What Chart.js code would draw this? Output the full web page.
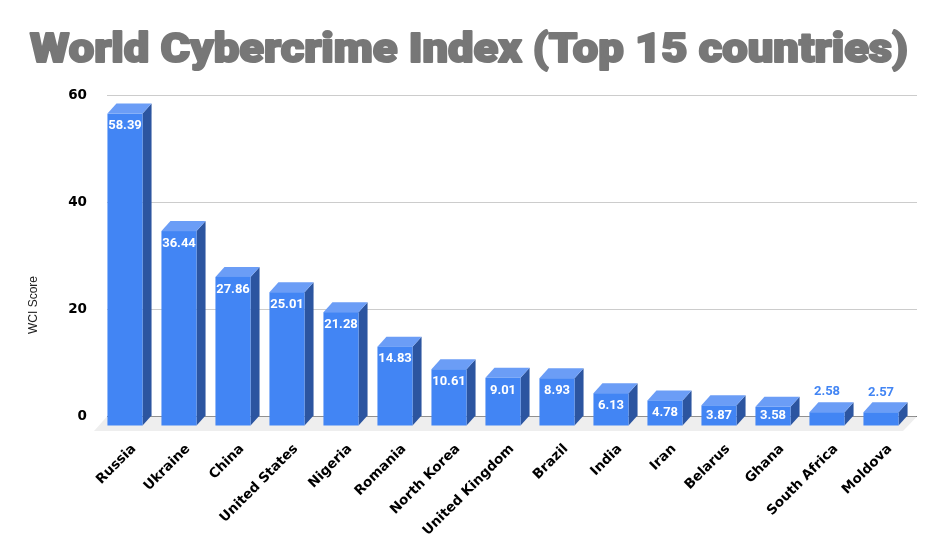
<!DOCTYPE html>
<html>
<head>
<meta charset="utf-8">
<title>World Cybercrime Index</title>
<script src="https://cdn.jsdelivr.net/npm/chart.js@4.4.1/dist/chart.umd.min.js"></script>
<style>
  html, body { margin: 0; padding: 0; background: #ffffff; }
  canvas { display: block; }
</style>
</head>
<body>
<canvas id="chart" width="945" height="550"></canvas>
<script>
// data
const countries = ['Russia', 'Ukraine', 'China', 'United States', 'Nigeria', 'Romania', 'North Korea',
  'United Kingdom', 'Brazil', 'India', 'Iran', 'Belarus', 'Ghana', 'South Africa', 'Moldova'];
const wciScores = [58.39, 36.44, 27.86, 25.01, 21.28, 14.83, 10.61, 9.01, 8.93, 6.13, 4.78, 3.87, 3.58, 2.58, 2.57];
const yTicks = [0, 20, 40, 60];
const chartTitle = 'World Cybercrime Index (Top 15 countries)';
const yAxisTitle = 'WCI Score';

// 3d look
const DEPTH_X = 9;
const DEPTH_Y = 10;
const FRONT = '#4285f4';
const SIDE = '#2c55a0';
const TOP = '#6b9df6';

// grey floor under the bars
const floorPlugin = {
  id: 'floor',
  beforeDatasetsDraw(chart) {
    const { ctx, chartArea } = chart;
    ctx.save();
    ctx.fillStyle = '#eeeeee';
    ctx.beginPath();
    ctx.moveTo(chartArea.left, chartArea.bottom + 0.5);
    ctx.lineTo(chartArea.right, chartArea.bottom + 0.5);
    ctx.lineTo(chartArea.right - 14, chartArea.bottom + 15);
    ctx.lineTo(chartArea.left - 13, chartArea.bottom + 15);
    ctx.closePath();
    ctx.fill();
    ctx.restore();
  }
};

// draws each bar as a box, using the positions chart.js computed
const boxPlugin = {
  id: 'box3d',
  afterDatasetsDraw(chart) {
    const ctx = chart.ctx;
    const meta = chart.getDatasetMeta(0);
    const values = chart.data.datasets[0].data;
    ctx.save();
    meta.data.forEach((bar, i) => {
      const p = bar.getProps(['x', 'y', 'base', 'width'], true);
      const L = p.x - p.width / 2, R = p.x + p.width / 2;
      const T = p.y, B = p.base;
      // side
      ctx.fillStyle = SIDE;
      ctx.beginPath();
      ctx.moveTo(R - DEPTH_X, T + DEPTH_Y);
      ctx.lineTo(R, T);
      ctx.lineTo(R, B);
      ctx.lineTo(R - DEPTH_X, B + DEPTH_Y);
      ctx.closePath();
      ctx.fill();
      // top
      ctx.fillStyle = TOP;
      ctx.beginPath();
      ctx.moveTo(L - DEPTH_X, T + DEPTH_Y);
      ctx.lineTo(L, T);
      ctx.lineTo(R, T);
      ctx.lineTo(R - DEPTH_X, T + DEPTH_Y);
      ctx.closePath();
      ctx.fill();
      // front
      ctx.fillStyle = FRONT;
      ctx.fillRect(L - DEPTH_X, T + DEPTH_Y, p.width, B - T);

      // value label
      const fx = p.x - DEPTH_X;
      const fTop = T + DEPTH_Y, fBot = B + DEPTH_Y;
      ctx.font = 'bold 13px Roboto';
      ctx.textAlign = 'center';
      ctx.textBaseline = 'middle';
      const txt = values[i].toFixed(2);
      if (values[i] < 3) {
        ctx.fillStyle = FRONT;
        ctx.fillText(txt, fx, T - 10);
      } else {
        ctx.fillStyle = '#ffffff';
        ctx.fillText(txt, fx, Math.min(fTop + 12.5, (fTop + fBot) / 2));
      }
    });
    ctx.restore();
  }
};

// heavy grey title and the rotated axis title
const textPlugin = {
  id: 'texts',
  afterDraw(chart) {
    const ctx = chart.ctx;
    ctx.save();
    ctx.font = '900 40px Roboto';
    ctx.fillStyle = '#777777';
    ctx.strokeStyle = '#777777';
    ctx.lineWidth = 2;
    ctx.lineJoin = 'round';
    ctx.textAlign = 'left';
    ctx.textBaseline = 'alphabetic';
    const w = ctx.measureText(chartTitle).width;
    const sx = 878 / w;
    ctx.translate(30, 62);
    ctx.scale(sx, 1);
    ctx.fillText(chartTitle, 0, 0);
    ctx.strokeText(chartTitle, 0, 0);
    ctx.restore();

    ctx.save();
    ctx.font = '12px "Liberation Sans"';
    ctx.fillStyle = '#222222';
    ctx.textAlign = 'center';
    ctx.textBaseline = 'middle';
    ctx.translate(34, 305);
    ctx.rotate(-Math.PI / 2);
    ctx.fillText(yAxisTitle, 0, 0);
    ctx.restore();
  }
};

new Chart(document.getElementById('chart'), {
  type: 'bar',
  data: {
    labels: countries,
    datasets: [{
      label: yAxisTitle,
      data: wciScores,
      backgroundColor: 'rgba(0,0,0,0)',
      borderWidth: 0,
      categoryPercentage: 1.0,
      barPercentage: 0.65
    }]
  },
  options: {
    responsive: false,
    animation: false,
    events: [],
    layout: { padding: { top: 95, right: 28, left: 0, bottom: 0 } },
    plugins: {
      legend: { display: false },
      tooltip: { enabled: false },
      title: { display: false }
    },
    scales: {
      x: {
        grid: { display: false, drawTicks: false },
        border: { display: false },
        ticks: {
          autoSkip: false,
          maxRotation: 45,
          minRotation: 45,
          padding: 25,
          color: '#000000',
          font: { family: 'DejaVu Sans', weight: 'bold', size: 13.5 }
        },
        afterFit(scale) { scale.height = 134; }
      },
      y: {
        min: 0,
        max: 60,
        afterBuildTicks(scale) { scale.ticks = yTicks.map(v => ({ value: v })); },
        grid: {
          drawTicks: false,
          color: ctx => (ctx.tick && ctx.tick.value === 0 ? '#333333' : '#cccccc'),
          lineWidth: 1
        },
        border: { display: false },
        ticks: {
          padding: 20,
          color: '#000000',
          font: { family: 'DejaVu Sans', weight: 'bold', size: 13.5 }
        },
        afterFit(scale) { scale.width = 107; }
      }
    }
  },
  plugins: [floorPlugin, boxPlugin, textPlugin]
});
</script>
</body>
</html>
